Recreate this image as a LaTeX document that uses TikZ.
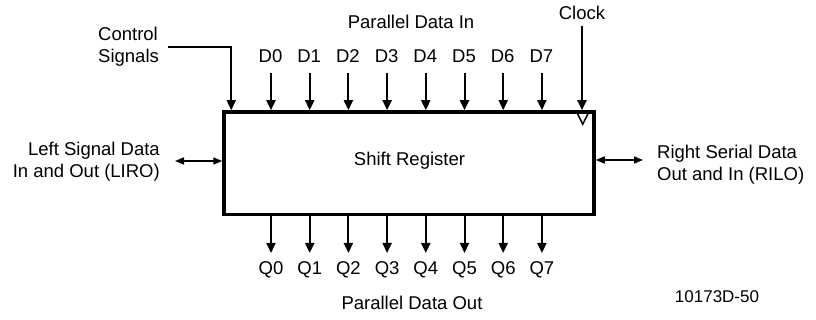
\documentclass[tikz,border=0pt]{standalone}
\usepackage{fontspec}
\setmainfont{Liberation Sans}
\usetikzlibrary{arrows.meta}
\begin{document}
\begin{tikzpicture}[x=1pt, y=1pt, font=\fontsize{18.5}{22}\selectfont, line join=miter, >={Triangle[length=10pt,width=9pt]},
	sig/.style={->, line width=2pt},
	bus/.style={<->, line width=1.6pt, >={Triangle[length=9pt,width=7pt]}},
	lbl/.style={inner sep=0pt}]
	\useasboundingbox (0,0) rectangle (816,320);
	\node[draw, line width=3.5pt, minimum width=370pt, minimum height=102.7pt, inner sep=0pt] (reg) at (409,156.7) {};
	\node[lbl] (regname) at (409.5,159) {Shift Register};
	% parallel inputs and outputs
	\foreach \i in {0,...,7}{
		\node[lbl, anchor=base] (dl\i) at ({270.5+38.7*\i},257) {D\i};
		\coordinate (din\i) at ({271+38.7*\i},247);
		\draw[sig] (din\i) -- (din\i |- reg.north);
		\coordinate (qout\i) at ({271+38.7*\i},67);
		\draw[sig] (qout\i |- reg.south) -- (qout\i);
		\node[lbl, anchor=base] (ql\i) at ({271+38.7*\i},45) {Q\i};
	}
	\node[lbl] (pin) at (411,298.5) {Parallel Data In};
	\node[lbl, anchor=base] (pout) at (412,10) {Parallel Data Out};
	% control and clock
	\node[lbl, anchor=north west, align=left] (ctl) at (98,293) {Control\\Signals};
	\coordinate (ctlin) at (168,273);
	\draw[->, line width=1.6pt] (ctlin) -| ([xshift=9pt]reg.north west);
	\node[lbl] (clk) at (582,307.5) {Clock};
	\draw[sig] ([yshift=-7pt]clk.south) -- (clk.south |- reg.north);
	\draw[line width=1.5pt] ([xshift=-20pt]reg.north east) -- ++(7,-14) -- ++(7,14);
	% serial data
	\node[lbl, anchor=north east, align=right] (liro) at (160,178) {Left Signal Data\\In and Out (LIRO)};
	\coordinate (lend) at (175,159);
	\draw[bus] (lend) -- (lend -| reg.west);
	\node[lbl, anchor=north west, align=left] (rilo) at (657,175) {Right Serial Data\\Out and In (RILO)};
	\coordinate (rend) at (643,160);
	\draw[bus] (rend -| reg.east) -- (rend);
	\node[lbl, anchor=base, font=\fontsize{17}{20}\selectfont] (fig) at (717,17) {10173D-50};
\end{tikzpicture}
\end{document}
